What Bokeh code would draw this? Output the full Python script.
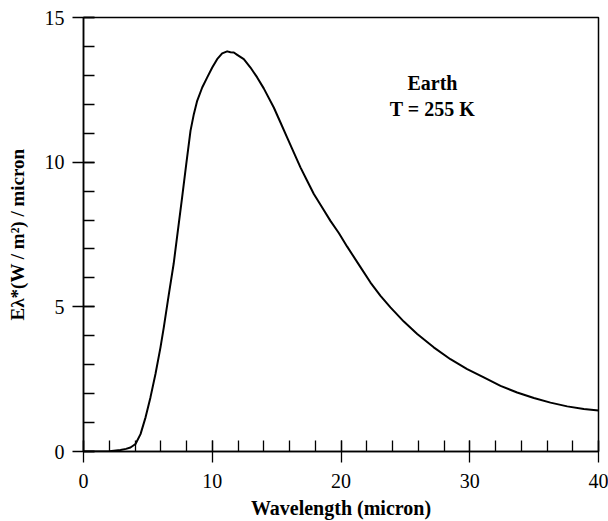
from bokeh.plotting import figure
from bokeh.models import Range1d, FixedTicker, ColumnDataSource
from bokeh.core.properties import value
from bokeh.embed import file_html
from bokeh.resources import INLINE

# Data
wavelength = [0, 1, 2, 2.87, 3.3, 3.65, 4.04, 4.43, 4.82, 5.2, 5.59, 5.98,
              6.24, 6.63, 7.0, 7.33, 7.66, 7.98, 8.31, 8.57, 8.83, 9.22, 9.61,
              10.0, 10.38, 10.77, 11.16, 11.42, 11.68, 11.94, 12.45, 12.97,
              13.49, 14.0, 14.78, 15.3, 15.82, 16.33, 16.85, 17.37, 17.89,
              18.54, 19.18, 19.83, 20.48, 21.5, 22.29, 23.07, 23.84, 24.88,
              25.92, 27.2, 28.5, 29.8, 31.09, 32.39, 33.68, 34.98, 36.27,
              37.57, 38.86, 40]
emission = [0, 0, 0.01, 0.05, 0.09, 0.14, 0.26, 0.60, 1.18, 1.87, 2.68, 3.60,
            4.30, 5.44, 6.48, 7.63, 8.78, 9.93, 11.08, 11.66, 12.12, 12.58,
            12.93, 13.27, 13.56, 13.76, 13.83, 13.80, 13.79, 13.71, 13.56,
            13.27, 12.93, 12.55, 11.89, 11.37, 10.85, 10.34, 9.82, 9.36, 8.90,
            8.43, 7.97, 7.55, 7.08, 6.38, 5.84, 5.38, 4.98, 4.49, 4.06, 3.60,
            3.19, 2.85, 2.56, 2.27, 2.04, 1.85, 1.69, 1.56, 1.47, 1.42]
x_major = [0, 10, 20, 30, 40]
x_minor = list(range(0, 41, 2))
y_major = [0, 5, 10, 15]
y_minor = list(range(0, 16))
note_lines = ["Earth", "T = 255 K"]
note_x = [27.1, 27.1]
note_y = [12.74, 11.85]

SERIF = "Liberation Serif"

p = figure(width=608, height=521, output_backend="svg", toolbar_location=None,
           x_range=Range1d(0, 40), y_range=Range1d(0, 15),
           min_border_left=83, min_border_right=10, min_border_top=17,
           min_border_bottom=70)
p.background_fill_color = "white"
p.border_fill_color = "white"
p.xgrid.visible = False
p.ygrid.visible = False
p.outline_line_color = "black"
p.outline_line_width = 1.5

p.line(wavelength, emission, line_color="black", line_width=2,
       line_join="round")

src = ColumnDataSource(dict(x=note_x, y=note_y, t=note_lines))
p.text(x="x", y="y", text="t", source=src, text_font=value(SERIF),
       text_font_style="bold", text_font_size="20px", text_align="center",
       text_baseline="middle", text_color="black")

p.xaxis.ticker = FixedTicker(ticks=x_major, minor_ticks=x_minor)
p.yaxis.ticker = FixedTicker(ticks=y_major, minor_ticks=y_minor)

p.xaxis.axis_label = "Wavelength (micron)"
p.yaxis.axis_label = "Eλ*(W / m²) / micron"

for ax in (p.xaxis[0], p.yaxis[0]):
    ax.axis_line_color = "black"
    ax.axis_line_width = 1.5
    ax.major_tick_line_color = "black"
    ax.major_tick_line_width = 1.3
    ax.minor_tick_line_color = "black"
    ax.minor_tick_line_width = 1.3
    ax.major_tick_in = 11
    ax.major_tick_out = 11
    ax.minor_tick_in = 11
    ax.minor_tick_out = 0
    ax.major_label_text_font = SERIF
    ax.major_label_text_font_size = "20px"
    ax.major_label_text_color = "black"
    ax.axis_label_text_font = SERIF
    ax.axis_label_text_font_style = "bold"
    ax.axis_label_text_font_size = "20px"
    ax.axis_label_text_color = "black"

p.xaxis.major_label_standoff = 11
p.yaxis.major_label_standoff = 8
p.xaxis.axis_label_standoff = 6
p.yaxis.axis_label_standoff = 14
p.yaxis.axis_label_text_font_size = "19px"

open("out.html", "w").write(file_html(p, INLINE))
